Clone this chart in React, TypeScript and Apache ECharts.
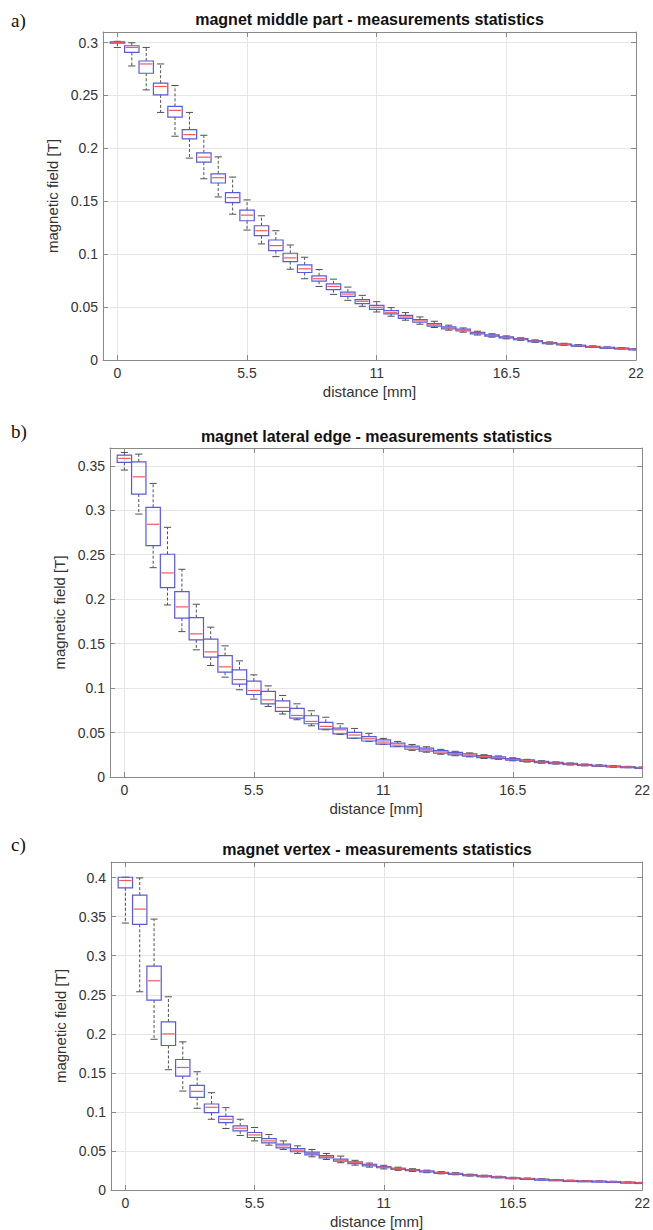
import React, { useEffect, useRef } from "react";
import * as echarts from "echarts";

// ---------- data ----------
const distance = [
  0, 0.611, 1.222, 1.833, 2.444, 3.056, 3.667, 4.278, 4.889, 5.5, 6.111, 6.722, 7.333,
  7.944, 8.556, 9.167, 9.778, 10.389, 11, 11.611, 12.222, 12.833, 13.444, 14.056, 14.667,
  15.278, 15.889, 16.5, 17.111, 17.722, 18.333, 18.944, 19.556, 20.167, 20.778, 21.389, 22,
];
const xTickValues = [0, 5.5, 11, 16.5, 22];
const yTicksMiddle = [0, 0.05, 0.1, 0.15, 0.2, 0.25, 0.3];
const yTicksLateral = [0, 0.05, 0.1, 0.15, 0.2, 0.25, 0.3, 0.35];
const yTicksVertex = [0, 0.05, 0.1, 0.15, 0.2, 0.25, 0.3, 0.35, 0.4];

const titles = [
  "magnet middle part - measurements statistics",
  "magnet lateral edge - measurements statistics",
  "magnet vertex - measurements statistics",
];
const panelLetters = ["a)", "b)", "c)"];
const xName = "distance [mm]";
const yName = "magnetic field [T]";

// a) magnet middle part
const middleLow = [0.2954, 0.2779, 0.2553, 0.234, 0.2115, 0.1908, 0.1713, 0.1541, 0.1378, 0.1228, 0.1097, 0.0977, 0.0858, 0.0768, 0.0695, 0.062, 0.0564, 0.0508, 0.0454, 0.0414, 0.0376, 0.0338, 0.0307, 0.0282, 0.0263, 0.0236, 0.0216, 0.02, 0.0186, 0.0167, 0.015, 0.0139, 0.0128, 0.0119, 0.0111, 0.0104, 0.0096];
const middleQ1 = [0.2995, 0.2907, 0.271, 0.2506, 0.2296, 0.2089, 0.187, 0.1673, 0.1488, 0.1316, 0.1175, 0.1034, 0.093, 0.0827, 0.0745, 0.0665, 0.0602, 0.0533, 0.0479, 0.0436, 0.0393, 0.0357, 0.0321, 0.0295, 0.0274, 0.0246, 0.0225, 0.0208, 0.0192, 0.0173, 0.0156, 0.0144, 0.0132, 0.0123, 0.0114, 0.0107, 0.0099];
const middleMed = [0.3, 0.2954, 0.2798, 0.2585, 0.2359, 0.213, 0.1917, 0.1723, 0.1535, 0.1369, 0.1222, 0.1081, 0.0965, 0.0862, 0.0768, 0.0695, 0.0623, 0.0555, 0.0498, 0.0451, 0.0407, 0.0369, 0.0332, 0.0304, 0.0282, 0.0253, 0.0231, 0.0213, 0.0197, 0.0178, 0.016, 0.0148, 0.0136, 0.0126, 0.0117, 0.011, 0.0102];
const middleQ3 = [0.3008, 0.297, 0.2826, 0.2616, 0.2397, 0.2178, 0.1958, 0.176, 0.1582, 0.1416, 0.1269, 0.1134, 0.1009, 0.0899, 0.0796, 0.072, 0.0642, 0.057, 0.0517, 0.0468, 0.0422, 0.0382, 0.0344, 0.0314, 0.0291, 0.0261, 0.0238, 0.0219, 0.0202, 0.0183, 0.0164, 0.0152, 0.014, 0.0129, 0.012, 0.0113, 0.0105];
const middleHigh = [0.3012, 0.2998, 0.2954, 0.2798, 0.2594, 0.234, 0.2124, 0.192, 0.1729, 0.1513, 0.1363, 0.1222, 0.1087, 0.0971, 0.0855, 0.0764, 0.0689, 0.0611, 0.0551, 0.0495, 0.0448, 0.0407, 0.0366, 0.0329, 0.0303, 0.0272, 0.0248, 0.0228, 0.021, 0.019, 0.0171, 0.0158, 0.0145, 0.0134, 0.0124, 0.0117, 0.0108];

// b) magnet lateral edge
const lateralLow = [0.3452, 0.2957, 0.2354, 0.1935, 0.1635, 0.143, 0.1254, 0.1123, 0.0981, 0.0876, 0.0793, 0.0708, 0.0644, 0.0576, 0.0531, 0.0479, 0.0434, 0.04, 0.0367, 0.0344, 0.03, 0.0279, 0.0256, 0.0239, 0.0226, 0.0208, 0.0199, 0.0182, 0.0168, 0.0155, 0.0145, 0.0135, 0.0125, 0.0118, 0.011, 0.0105, 0.0097];
const lateralQ1 = [0.3538, 0.3182, 0.2601, 0.213, 0.1786, 0.1542, 0.1348, 0.1179, 0.1045, 0.0928, 0.0823, 0.0737, 0.0663, 0.0599, 0.0539, 0.0486, 0.0438, 0.0405, 0.037, 0.034, 0.0312, 0.0291, 0.0267, 0.0249, 0.0235, 0.0217, 0.0207, 0.0189, 0.0175, 0.0161, 0.015, 0.014, 0.013, 0.0122, 0.0114, 0.0108, 0.01];
const lateralMed = [0.3583, 0.3376, 0.2842, 0.2295, 0.1913, 0.161, 0.1407, 0.1239, 0.1096, 0.0973, 0.0868, 0.0782, 0.0692, 0.0625, 0.0569, 0.0531, 0.0472, 0.043, 0.0393, 0.0359, 0.0329, 0.0307, 0.0281, 0.0262, 0.0247, 0.0228, 0.0217, 0.0198, 0.0183, 0.0168, 0.0157, 0.0146, 0.0135, 0.0127, 0.0119, 0.0112, 0.0104];
const lateralQ3 = [0.362, 0.3545, 0.3033, 0.2505, 0.2085, 0.1793, 0.155, 0.1366, 0.1205, 0.1078, 0.0962, 0.0857, 0.0771, 0.0689, 0.0615, 0.055, 0.0501, 0.0455, 0.0418, 0.038, 0.0348, 0.0324, 0.0297, 0.0276, 0.026, 0.024, 0.0228, 0.0208, 0.0192, 0.0176, 0.0164, 0.0153, 0.0141, 0.0132, 0.0124, 0.0116, 0.0108];
const lateralHigh = [0.365, 0.3631, 0.3302, 0.2808, 0.2336, 0.1943, 0.1685, 0.1475, 0.1306, 0.1149, 0.1025, 0.0917, 0.0823, 0.0745, 0.0672, 0.0599, 0.0546, 0.0491, 0.0434, 0.04, 0.0366, 0.034, 0.0311, 0.0289, 0.0271, 0.025, 0.0237, 0.0216, 0.0199, 0.0183, 0.017, 0.0158, 0.0146, 0.0137, 0.0128, 0.012, 0.0112];

// c) magnet vertex
const vertexLow = [0.3418, 0.2538, 0.193, 0.154, 0.1267, 0.1046, 0.0906, 0.0787, 0.0698, 0.0629, 0.0574, 0.0519, 0.0468, 0.0425, 0.0391, 0.0349, 0.0318, 0.0293, 0.027, 0.0252, 0.0238, 0.0222, 0.0207, 0.0195, 0.0179, 0.0168, 0.0156, 0.0144, 0.0135, 0.0128, 0.0121, 0.0112, 0.0108, 0.0105, 0.01, 0.0092, 0.0088];
const vertexQ1 = [0.3869, 0.3402, 0.2432, 0.185, 0.1458, 0.1186, 0.0991, 0.0863, 0.0756, 0.0672, 0.0603, 0.054, 0.049, 0.0451, 0.0411, 0.0371, 0.0339, 0.031, 0.0285, 0.0265, 0.0249, 0.0232, 0.0216, 0.0203, 0.0186, 0.0175, 0.0162, 0.0149, 0.014, 0.0133, 0.0125, 0.0116, 0.0112, 0.0108, 0.0103, 0.0095, 0.009];
const vertexMed = [0.3963, 0.3597, 0.2679, 0.1999, 0.1569, 0.1263, 0.1059, 0.0906, 0.0791, 0.0705, 0.0629, 0.0565, 0.051, 0.0468, 0.0425, 0.0383, 0.0349, 0.0319, 0.0293, 0.0272, 0.0255, 0.0238, 0.0221, 0.0208, 0.0191, 0.0179, 0.0166, 0.0153, 0.0144, 0.0136, 0.0128, 0.0119, 0.0115, 0.0111, 0.0106, 0.0098, 0.0093];
const vertexQ3 = [0.4005, 0.3776, 0.2866, 0.2152, 0.1671, 0.1339, 0.1101, 0.0944, 0.082, 0.0736, 0.0659, 0.0587, 0.053, 0.0485, 0.044, 0.0396, 0.036, 0.0328, 0.0301, 0.0279, 0.0261, 0.0244, 0.0226, 0.0213, 0.0196, 0.0183, 0.017, 0.0157, 0.0148, 0.0139, 0.0131, 0.0122, 0.0118, 0.0114, 0.0109, 0.0101, 0.0096];
const vertexHigh = [0.4005, 0.3996, 0.3469, 0.2474, 0.1897, 0.1514, 0.1246, 0.1055, 0.0906, 0.08, 0.071, 0.0629, 0.0565, 0.0519, 0.0468, 0.0434, 0.038, 0.0345, 0.0316, 0.0292, 0.0272, 0.0254, 0.0235, 0.0221, 0.0203, 0.019, 0.0176, 0.0163, 0.0153, 0.0144, 0.0135, 0.0126, 0.0121, 0.0117, 0.0112, 0.0104, 0.0098];

// ---------- layout / style ----------
const panels = [
  { grid: { left: 103, top: 32, width: 533, height: 328 }, yMax: 0.31, yTicks: yTicksMiddle, stats: [middleLow, middleQ1, middleMed, middleQ3, middleHigh], titleY: 19, letterY: 20 },
  { grid: { left: 110, top: 448, width: 533, height: 329 }, yMax: 0.37, yTicks: yTicksLateral, stats: [lateralLow, lateralQ1, lateralMed, lateralQ3, lateralHigh], titleY: 436, letterY: 431 },
  { grid: { left: 111, top: 862, width: 532, height: 328 }, yMax: 0.42, yTicks: yTicksVertex, stats: [vertexLow, vertexQ1, vertexMed, vertexQ3, vertexHigh], titleY: 849, letterY: 844 },
];

const FONT = "'Liberation Sans', Arial, Helvetica, sans-serif";
const AXIS_COLOR = "#8a8a8a";
const TEXT_COLOR = "#333333";
const GRID_COLOR = "#e6e6e6";
const BOX_COLOR = "#5a5ad8";
const MEDIAN_COLOR = "#f25a5a";
const WHISKER_COLOR = "#505050";

const STEP = distance[1] - distance[0];

function renderBox(_params: any, api: any) {
  const x = api.value(0);
  const low = api.coord([x, api.value(1)]);
  const q1 = api.coord([x, api.value(2)]);
  const med = api.coord([x, api.value(3)]);
  const q3 = api.coord([x, api.value(4)]);
  const high = api.coord([x, api.value(5)]);
  const w = api.size([STEP, 0])[0];
  const cx = med[0];
  const cap = w / 4;
  return {
    type: "group",
    children: [
      { type: "line", shape: { x1: cx, y1: q3[1], x2: cx, y2: high[1] }, style: { stroke: WHISKER_COLOR, lineWidth: 1, lineDash: [3, 2] } },
      { type: "line", shape: { x1: cx, y1: q1[1], x2: cx, y2: low[1] }, style: { stroke: WHISKER_COLOR, lineWidth: 1, lineDash: [3, 2] } },
      { type: "line", shape: { x1: cx - cap, y1: high[1], x2: cx + cap, y2: high[1] }, style: { stroke: WHISKER_COLOR, lineWidth: 1 } },
      { type: "line", shape: { x1: cx - cap, y1: low[1], x2: cx + cap, y2: low[1] }, style: { stroke: WHISKER_COLOR, lineWidth: 1 } },
      { type: "rect", shape: { x: cx - w / 2, y: q3[1], width: w, height: Math.max(q1[1] - q3[1], 1) }, style: { stroke: BOX_COLOR, fill: "none", lineWidth: 1.2 } },
      { type: "line", shape: { x1: cx - w / 2 + 1, y1: med[1], x2: cx + w / 2 - 1, y2: med[1] }, style: { stroke: MEDIAN_COLOR, lineWidth: 1.2 } },
    ],
  };
}

function buildOption() {
  const xAxes: any[] = [];
  const yAxes: any[] = [];
  const series: any[] = [];
  const graphics: any[] = [];

  panels.forEach((p, i) => {
    xAxes.push({
      type: "value",
      gridIndex: i,
      min: -STEP,
      max: distance[distance.length - 1],
      name: xName,
      nameLocation: "middle",
      nameGap: 24,
      nameTextStyle: { fontFamily: FONT, fontSize: 15, color: TEXT_COLOR },
      axisLine: { show: true, onZero: false, lineStyle: { color: AXIS_COLOR, width: 1 } },
      axisTick: { show: true, inside: true, length: 5, customValues: xTickValues, lineStyle: { color: AXIS_COLOR } },
      axisLabel: { show: true, customValues: xTickValues, margin: 6, fontFamily: FONT, fontSize: 14, color: TEXT_COLOR },
      splitLine: { show: true, lineStyle: { color: GRID_COLOR, width: 1 } },
    });
    yAxes.push({
      type: "value",
      gridIndex: i,
      min: 0,
      max: p.yMax,
      name: yName,
      nameLocation: "middle",
      nameRotate: 90,
      nameGap: 33,
      nameTextStyle: { fontFamily: FONT, fontSize: 15, color: TEXT_COLOR },
      axisLine: { show: true, onZero: false, lineStyle: { color: AXIS_COLOR, width: 1 } },
      axisTick: { show: true, inside: true, length: 5, customValues: p.yTicks, lineStyle: { color: AXIS_COLOR } },
      axisLabel: { show: true, customValues: p.yTicks, margin: 5, fontFamily: FONT, fontSize: 14, color: TEXT_COLOR },
      splitLine: { show: true, lineStyle: { color: GRID_COLOR, width: 1 } },
    });
    const [low, q1, med, q3, high] = p.stats;
    series.push({
      type: "custom",
      xAxisIndex: i,
      yAxisIndex: i,
      clip: true,
      renderItem: renderBox,
      encode: { x: 0, y: [1, 2, 3, 4, 5] },
      data: distance.map((d, j) => [d, low[j], q1[j], med[j], q3[j], high[j]]),
      z: 5,
    });
    const g = p.grid;
    graphics.push({
      type: "text",
      x: g.left + g.width / 2,
      y: p.titleY,
      style: { text: titles[i], font: `bold 16px ${FONT}`, fill: "#111", align: "center", verticalAlign: "middle", textAlign: "center", textVerticalAlign: "middle" },
    });
    graphics.push({
      type: "text",
      x: 11,
      y: p.letterY,
      style: { text: panelLetters[i], font: `19px 'Liberation Serif', 'Times New Roman', serif`, fill: "#111", align: "left", verticalAlign: "middle", textAlign: "left", textVerticalAlign: "middle" },
    });
  });

  // mirror axes (top / right) for the frame and inner ticks
  panels.forEach((p, i) => {
    xAxes.push({
      type: "value",
      gridIndex: i,
      position: "top",
      min: -STEP,
      max: distance[distance.length - 1],
      axisLine: { show: true, onZero: false, lineStyle: { color: AXIS_COLOR, width: 1 } },
      axisTick: { show: true, inside: true, length: 5, customValues: xTickValues, lineStyle: { color: AXIS_COLOR } },
      axisLabel: { show: false },
      splitLine: { show: false },
    });
    yAxes.push({
      type: "value",
      gridIndex: i,
      position: "right",
      min: 0,
      max: p.yMax,
      axisLine: { show: true, onZero: false, lineStyle: { color: AXIS_COLOR, width: 1 } },
      axisTick: { show: true, inside: true, length: 5, customValues: p.yTicks, lineStyle: { color: AXIS_COLOR } },
      axisLabel: { show: false },
      splitLine: { show: false },
    });
  });

  return {
    animation: false,
    backgroundColor: "#ffffff",
    grid: panels.map((p) => ({ ...p.grid, containLabel: false })),
    xAxis: xAxes,
    yAxis: yAxes,
    series,
    graphic: graphics,
  };
}

export default function App() {
  const ref = useRef<HTMLDivElement>(null);
  useEffect(() => {
    if (!ref.current) return;
    const chart = echarts.init(ref.current, null, { renderer: "svg" });
    chart.setOption(buildOption() as any);
    return () => chart.dispose();
  }, []);
  return (
    <div
      ref={ref}
      style={{ position: "absolute", left: 0, top: 0, width: 653, height: 1230, background: "#fff" }}
    />
  );
}
